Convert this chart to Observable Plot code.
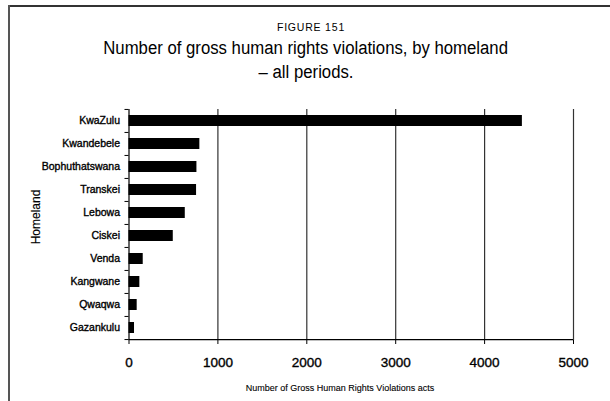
<!DOCTYPE html>
<html>
<head>
<meta charset="utf-8">
<script src="https://cdn.jsdelivr.net/npm/d3@7"></script>
<script src="https://cdn.jsdelivr.net/npm/@observablehq/plot@0.6"></script>
<style>
  html, body { margin: 0; padding: 0; background: #fff; }
  #wrap { position: relative; width: 610px; height: 401px; overflow: hidden; background: #fff;
          font-family: "Liberation Sans", Arial, sans-serif; color: #000; }
  .bt { position: absolute; left: 8px; top: 5px; right: 0; height: 2px; background: #333; }
  .bl { position: absolute; left: 8px; top: 5px; bottom: 0; width: 2px; background: #555; }
  #fig { position: absolute; left: 6px; width: 610px; top: 21.6px; text-align: center;
         font-size: 10.5px; line-height: 10.5px; letter-spacing: 0.8px; }
  #title { position: absolute; left: 1px; width: 610px; top: 35.8px; text-align: center;
           font-size: 18px; line-height: 24px; }
  #title span { display: inline-block; transform: scaleX(0.93); transform-origin: 50% 50%; white-space: nowrap; }
  #chart { position: absolute; left: 0; top: 95px; }
  #chart svg text { stroke: #000; stroke-width: 0.35px; }
  #ylab { position: absolute; left: 36px; top: 217px; transform: translate(-50%, -50%) rotate(-90deg);
          font-size: 12px; line-height: 12px; white-space: nowrap; -webkit-text-stroke: 0.15px #000; }
  #cap { position: absolute; left: 0; width: 680px; top: 384px; text-align: center;
         font-size: 9px; line-height: 9px; -webkit-text-stroke: 0.1px #000; }
</style>
</head>
<body>
<div id="wrap">
  <div class="bt"></div>
  <div class="bl"></div>
  <div id="fig">FIGURE 151</div>
  <div id="title"><span>Number of gross human rights violations, by homeland</span><br><span>– all periods.</span></div>
  <div id="chart"></div>
  <div id="ylab">Homeland</div>
  <div id="cap">Number of Gross Human Rights Violations acts</div>
</div>
<script>
const homelands = ["KwaZulu", "Kwandebele", "Bophuthatswana", "Transkei", "Lebowa",
                   "Ciskei", "Venda", "Kangwane", "Qwaqwa", "Gazankulu"];
const violations = [4425, 797, 764, 760, 633, 498, 160, 122, 92, 62];
const xTicks = [0, 1000, 2000, 3000, 4000, 5000];
const gridValues = [1000, 2000, 3000, 4000, 5000];

const data = homelands.map((h, i) => ({homeland: h, value: violations[i]}));
const step = 23.1;

const chart = Plot.plot({
  width: 610,
  height: 280,
  marginTop: 14,
  marginBottom: 35,
  marginLeft: 128.5,
  marginRight: 37,
  style: {fontFamily: '"Liberation Sans", Arial, sans-serif', color: "#000", background: "transparent"},
  x: {domain: [0, 5000]},
  y: {domain: homelands, paddingInner: 0.52, paddingOuter: 0.26},
  marks: [
    Plot.ruleX(gridValues, {stroke: "#333", strokeWidth: 1.2}),
    Plot.barX(data, {x: "value", y: "homeland", fill: "#000"}),
    Plot.ruleX([0], {stroke: "#000", strokeWidth: 1.2}),
    Plot.ruleY([homelands[homelands.length - 1]], {x1: 0, x2: 5000, dy: step / 2, stroke: "#000", strokeWidth: 1.2}),
    Plot.ruleY(homelands, {x1: -45, x2: 0, dy: -step / 2, stroke: "#000"}),
    Plot.ruleY([homelands[homelands.length - 1]], {x1: -45, x2: 0, dy: step / 2, stroke: "#000"}),
    Plot.axisX(xTicks, {tickSize: 4, tickPadding: 13, fontSize: 13.5, label: null, stroke: "#000", tickFormat: d => String(d)}),
    Plot.axisY({tickSize: 0, tickPadding: 9, fontSize: 10.5, label: null})
  ]
});
document.getElementById("chart").appendChild(chart);
</script>
</body>
</html>
